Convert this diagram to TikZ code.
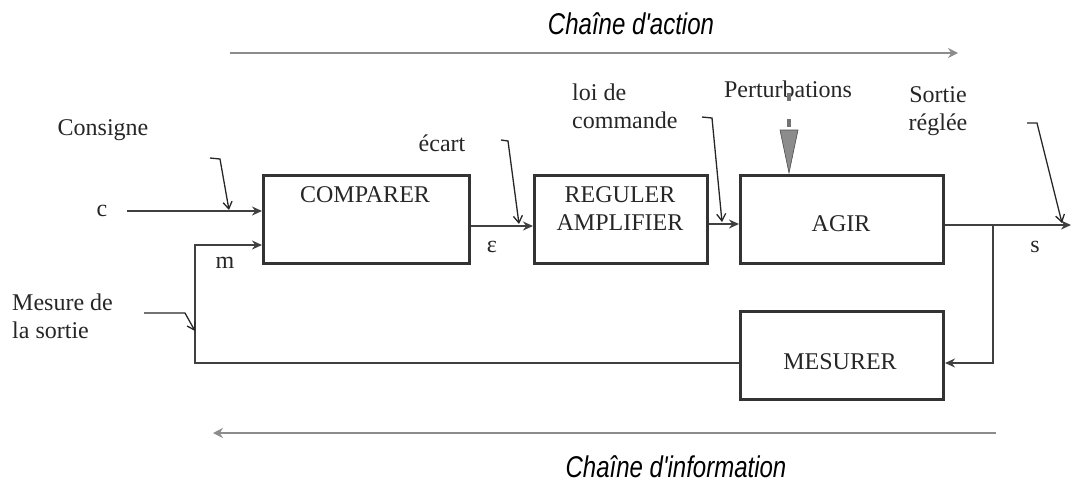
\documentclass[tikz,border=0pt]{standalone}
\usepackage{fontspec}
\setmainfont{Liberation Serif}
\newfontfamily\titlefont{Liberation Sans}
\usetikzlibrary{arrows.meta}
\begin{document}
\begin{tikzpicture}[x=1pt,y=-1pt,
  blk/.style={draw=black!80,line width=3pt,anchor=north west,inner sep=0pt},
  lbl/.style={font=\fontsize{24}{28}\selectfont,inner sep=0pt,text=black!85},
  ttl/.style={font=\titlefont\itshape\fontsize{30}{34}\selectfont,inner sep=0pt},
  sig/.style={draw=black!75,line width=1.6pt,-{Stealth[length=10pt,width=9pt]}},
  ptr/.style={draw=black!85,line width=1.3pt,-{Straight Barb[length=7pt,width=9pt]}},
  chain/.style={draw=black!45,line width=1.6pt,-{Stealth[length=10pt,width=10pt]}}]
\useasboundingbox (0,0) rectangle (1072,488);
% titles and chain arrows
\node[ttl] (tact) at (631,24) {\scalebox{0.8}[1]{Chaîne d'action}};
\node[ttl] (tinf) at (676,467) {\scalebox{0.8}[1]{Chaîne d'information}};
\coordinate (a1) at (230,53); \coordinate (a2) at (958,53);
\draw[chain] (a1) -- (a2);
\coordinate (b1) at (996,433); \coordinate (b2) at (213,433);
\draw[chain] (b1) -- (b2);
% blocks
\node[blk,minimum width=206pt,minimum height=88pt] (cmp) at (262,174) {};
\node[blk,minimum width=173pt,minimum height=88pt] (reg) at (533,174) {};
\node[blk,minimum width=203pt,minimum height=88pt] (agir) at (739,174) {};
\node[blk,minimum width=203pt,minimum height=88pt] (mes) at (739,310) {};
\node[lbl] (tcmp) at (365,195) {COMPARER};
\node[lbl,align=center] (treg) at (620,209) {REGULER\\AMPLIFIER};
\node[lbl] (tagir) at (841,224) {AGIR};
\node[lbl] (tmes) at (840,362) {MESURER};
% labels
\node[lbl] (lcons) at (103,130) {Consigne};
\node[lbl] (lc) at (102,211) {c};
\node[lbl] (lm) at (225,263) {m};
\node[lbl,align=left,anchor=west] (lmes) at (12,316) {Mesure de\\la sortie};
\node[lbl] (lec) at (442,143) {écart};
\node[lbl] (leps) at (492,247) {ε};
\node[lbl,align=left,anchor=west] (lloi) at (572,106) {loi de\\commande};
\node[lbl] (lpert) at (788,89) {Perturbations};
\node[lbl,align=center] (lsort) at (938,111) {Sortie\\réglée};
\node[lbl] (ls) at (1035,247) {s};
% signals
\coordinate (c0) at (127,211);
\draw[sig] (c0) -- (c0 -| cmp.west);
\coordinate (e0) at (468,226);
\draw[sig] (cmp.east |- e0) -- (reg.west |- e0);
\coordinate (u0) at (706,224);
\draw[sig] (reg.east |- u0) -- (agir.west |- u0);
\coordinate (s0) at (1071,225);
\draw[sig] (agir.east |- s0) -- (s0);
\coordinate (br) at (993,225);
\coordinate (br2) at (993,363);
\draw[sig] (br) -- (br2) -- (mes.east |- br2);
\coordinate (fb1) at (195,363);
\coordinate (fb2) at (195,245);
\draw[sig] (mes.west |- fb1) -- (fb1) -- (fb2) -- (cmp.west |- fb2);
% perturbation
\coordinate (p0) at (789,93);
\coordinate (p1) at (789,130);
\draw[draw=black!55,line width=4pt,dash pattern=on 8pt off 18pt] (p0) -- (p1);
\fill[black!45,draw=black!70,line width=0.6pt] (780,130) -- (798,130) -- (789,173) -- cycle;
% pointers
\coordinate (q1) at (210,158); \coordinate (q2) at (220,159); \coordinate (q3) at (229,210);
\draw[ptr] (q1) -- (q2) -- (q3);
\coordinate (r1) at (501,140); \coordinate (r2) at (508,141); \coordinate (r3) at (519,224);
\draw[ptr] (r1) -- (r2) -- (r3);
\coordinate (t1) at (702,117); \coordinate (t2) at (712,118); \coordinate (t3) at (722,222);
\draw[ptr] (t1) -- (t2) -- (t3);
\coordinate (v1) at (1027,123); \coordinate (v2) at (1037,123); \coordinate (v3) at (1062,223);
\draw[ptr] (v1) -- (v2) -- (v3);
\coordinate (w1) at (144,313); \coordinate (w2) at (185,313); \coordinate (w3) at (195,331);
\draw[ptr] (w1) -- (w2) -- (w3);
\end{tikzpicture}
\end{document}
